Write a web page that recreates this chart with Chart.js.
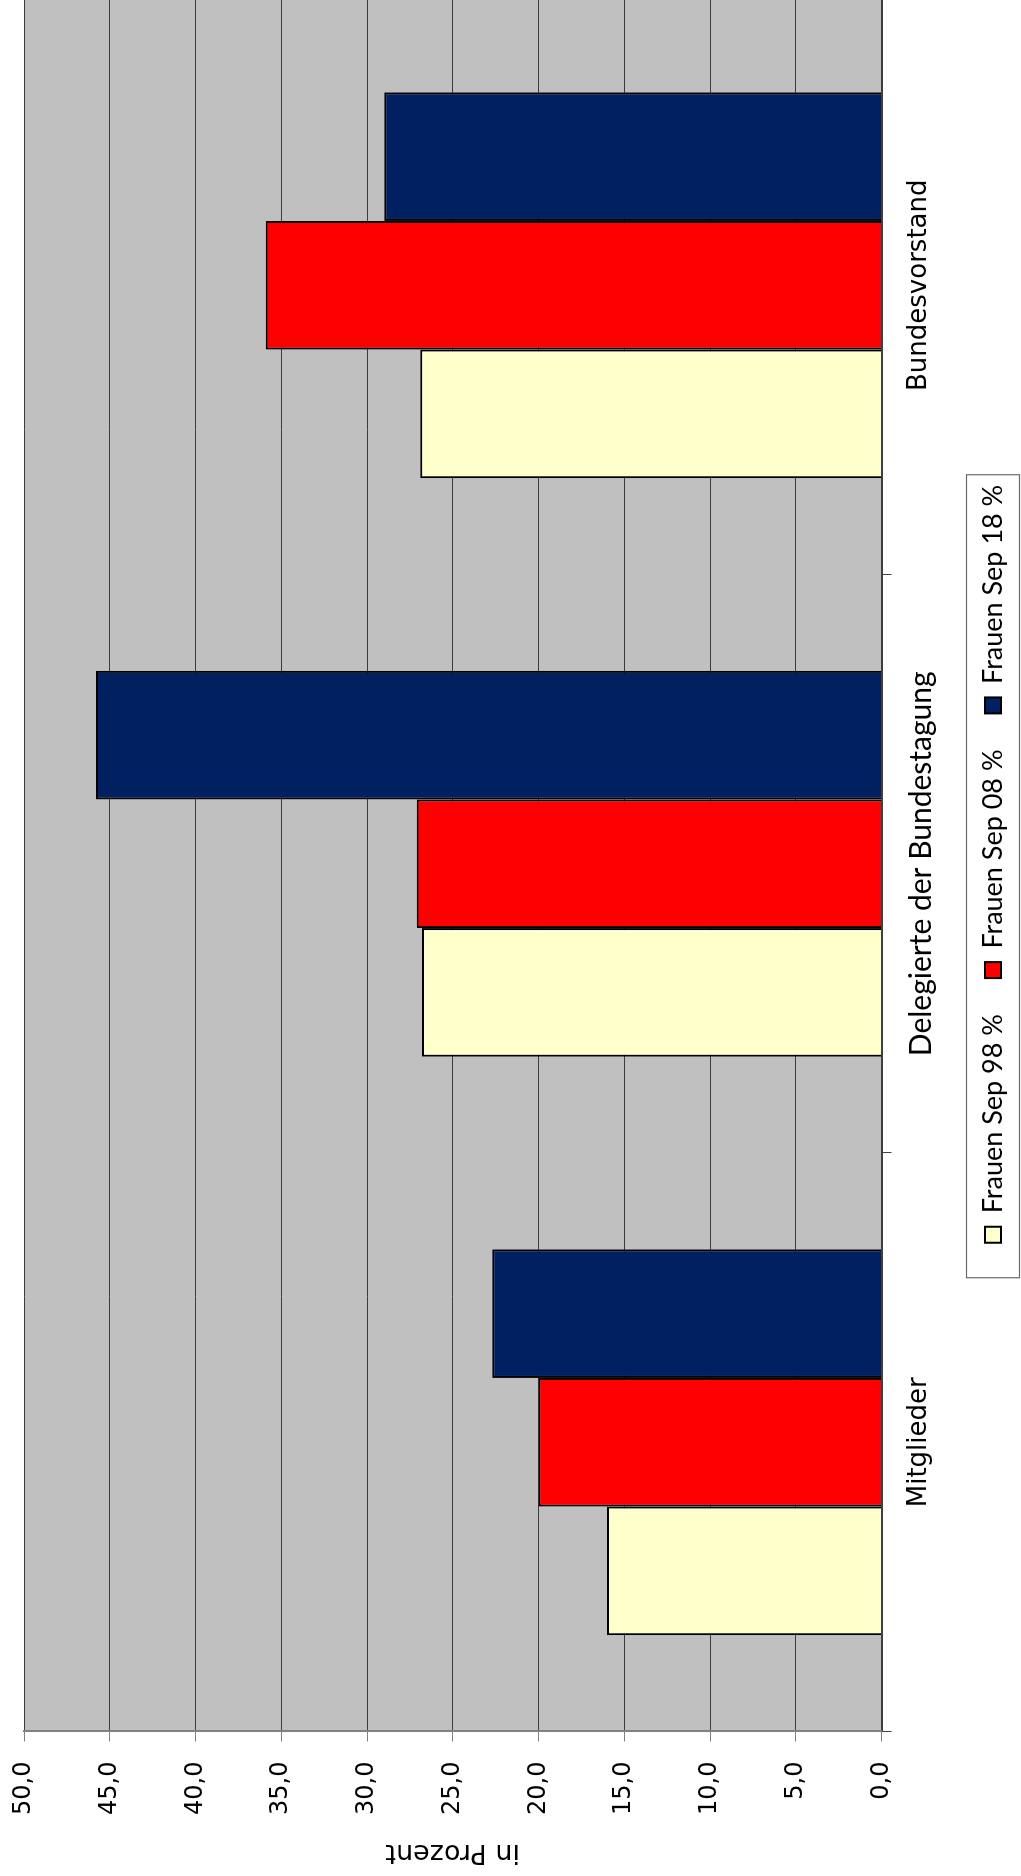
<!DOCTYPE html>
<html lang="de">
<head>
<meta charset="utf-8">
<title>Frauenanteil</title>
<script src="https://cdn.jsdelivr.net/npm/chart.js@4.4.1/dist/chart.umd.min.js"></script>
<style>
  html, body { margin: 0; padding: 0; background: #fff; }
  body { width: 1021px; height: 1876px; overflow: hidden; position: relative; }
  /* the chart is drawn landscape and turned a quarter left */
  #wrap {
    position: absolute; left: 0; top: 0;
    width: 1880px; height: 1021px;
    transform-origin: 0 0;
    transform: translate(0, 1876px) rotate(-90deg);
  }
</style>
</head>
<body>
<div id="wrap"><canvas id="chart" width="1880" height="1021"></canvas></div>
<script>
const categories = ['Mitglieder', 'Delegierte der Bundestagung', 'Bundesvorstand'];
const seriesNames = ['Frauen Sep 98 %', 'Frauen Sep 08 %', 'Frauen Sep 18 %'];
const sep98 = [16.0, 26.8, 26.9];
const sep08 = [20.0, 27.1, 35.9];
const sep18 = [22.7, 45.8, 29.0];
const valueTicks = [0, 5, 10, 15, 20, 25, 30, 35, 40, 45, 50];

const plotBackground = {
    id: 'plotBackground',
    beforeDraw(chart) {
        const {ctx, chartArea: a} = chart;
        ctx.save();
        ctx.fillStyle = '#c0c0c0';
        ctx.fillRect(a.left, a.top, a.right - a.left, a.bottom - a.top);
        ctx.restore();
    }
};

// Excel-style frame round the legend
const legendFrame = {
    id: 'legendFrame',
    afterDraw(chart) {
        const lg = chart.legend;
        if (!lg || !lg.legendHitBoxes.length) return;
        const first = lg.legendHitBoxes[0];
        const x = first.left - 35;
        const ctx = chart.ctx;
        ctx.save();
        ctx.strokeStyle = '#6a6a6a';
        ctx.lineWidth = 1.2;
        ctx.strokeRect(x, lg.top + 23, 803, 53);
        ctx.restore();
    }
};

const ctx = document.getElementById('chart').getContext('2d');
new Chart(ctx, {
    type: 'bar',
    data: {
        labels: categories,
        datasets: [
            { label: seriesNames[0], data: sep98, backgroundColor: '#ffffcc' },
            { label: seriesNames[1], data: sep08, backgroundColor: '#ff0000' },
            { label: seriesNames[2], data: sep18, backgroundColor: '#002060' }
        ]
    },
    options: {
        responsive: false,
        animation: false,
        events: [],
        layout: { padding: { left: 0, top: 24, right: 0, bottom: 4.5 } },
        datasets: {
            bar: {
                categoryPercentage: 0.667,
                barPercentage: 1.0,
                borderColor: '#000',
                borderWidth: 2
            }
        },
        scales: {
            x: {
                grid: {
                    drawOnChartArea: false,
                    drawTicks: true,
                    tickLength: 10,
                    color: '#404040',
                    lineWidth: 1
                },
                border: { color: '#404040', width: 2 },
                ticks: {
                    color: '#000',
                    padding: 12,
                    maxRotation: 0,
                    font: (c) => c.index === 1
                        ? { family: 'Lato', size: 30, lineHeight: 1.2 }
                        : { family: 'DejaVu Sans', size: 26, lineHeight: 1.2 }
                },
                afterFit(scale) { scale.height = 62; }
            },
            y: {
                min: 0,
                max: 50,
                afterBuildTicks(scale) {
                    scale.ticks = valueTicks.map(v => ({ value: v }));
                },
                grid: {
                    color: '#3c3c3c',
                    lineWidth: 1,
                    tickLength: 10,
                    tickColor: '#808080'
                },
                border: { color: '#808080', width: 2 },
                ticks: {
                    color: '#000',
                    padding: 20,
                    font: { family: 'DejaVu Sans', size: 24 },
                    callback: (v) => v.toFixed(1).replace('.', ',')
                },
                title: {
                    display: true,
                    text: 'in Prozent',
                    color: '#000',
                    font: { family: 'DejaVu Sans', size: 27 },
                    padding: { top: 8, bottom: 0 }
                },
                afterFit(scale) {
                    scale.width = 144.5;
                    // keep the plot top at the layout padding
                    scale.paddingTop = 0;
                    scale.paddingBottom = 0;
                }
            }
        },
        plugins: {
            legend: {
                position: 'bottom',
                fullSize: false,
                labels: {
                    color: '#000',
                    font: { family: 'Lato', size: 27 },
                    boxWidth: 16,
                    boxHeight: 16,
                    padding: 36
                }
            },
            tooltip: { enabled: false }
        }
    },
    plugins: [plotBackground, legendFrame]
});
</script>
</body>
</html>
